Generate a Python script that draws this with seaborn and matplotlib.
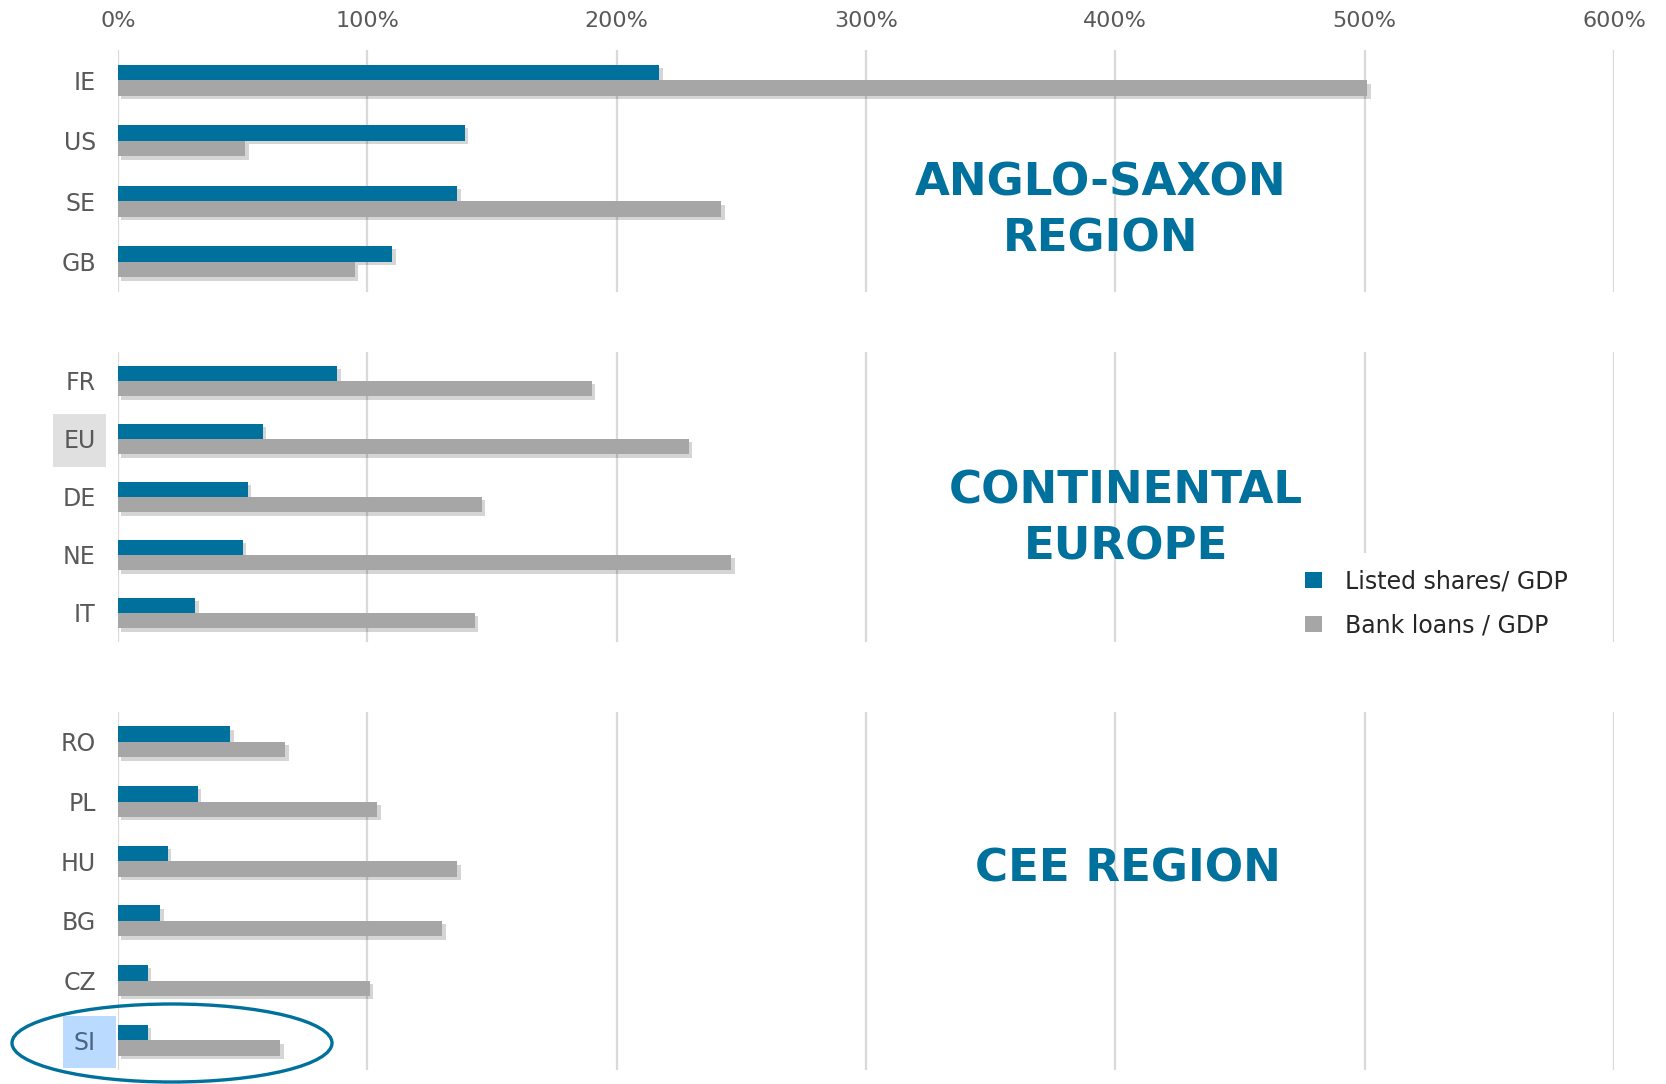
"""Listed shares vs bank loans (% of GDP) by region, three stacked bar panels."""

import pandas as pd
import seaborn as sns
import matplotlib.pyplot as plt
from matplotlib import patheffects
from matplotlib.patches import Ellipse, Rectangle, Patch

# --- data (% of GDP) ---
anglo = ["IE", "US", "SE", "GB"]
anglo_shares = [217, 139, 136, 110]
anglo_loans = [501, 51, 242, 95]

cont = ["FR", "EU", "DE", "NE", "IT"]
cont_shares = [88, 58, 52, 50, 31]
cont_loans = [190, 229, 146, 246, 143]

cee = ["RO", "PL", "HU", "BG", "CZ", "SI"]
cee_shares = [45, 32, 20, 17, 12, 12]
cee_loans = [67, 104, 136, 130, 101, 65]

series = ["Listed shares/ GDP", "Bank loans / GDP"]
xticks = [0, 100, 200, 300, 400, 500, 600]
xtick_labels = ["0%", "100%", "200%", "300%", "400%", "500%", "600%"]

BLUE = "#00709c"
GREY = "#a6a6a6"
W, H = 1666, 1084


def long_df(countries, shares, loans):
    df = pd.DataFrame({"country": countries, series[0]: shares, series[1]: loans})
    return df.melt(id_vars="country", var_name="series", value_name="value")


def px(x, y):
    # figure pixel (from top-left) -> figure fraction
    return x / W, 1 - y / H


sns.set_theme(style="white")
plt.rcParams["font.family"] = ["DejaVu Sans"]

fig = plt.figure(figsize=(W / 100, H / 100), dpi=100)

left, width = 118 / W, 1496 / W
panels = [
    (anglo, anglo_shares, anglo_loans, 50, 292),
    (cont, cont_shares, cont_loans, 352, 642),
    (cee, cee_shares, cee_loans, 712, 1070),
]

shadow = [patheffects.SimplePatchShadow(offset=(2.5, -2.5), shadow_rgbFace="k", alpha=0.18),
          patheffects.Normal()]

axes = []
for i, (cats, sh, lo, top, bot) in enumerate(panels):
    ax = fig.add_axes([left, 1 - bot / H, width, (bot - top) / H])
    df = long_df(cats, sh, lo)
    sns.barplot(data=df, y="country", x="value", hue="series", orient="h",
                palette=[BLUE, GREY], width=0.52, saturation=1, ax=ax,
                legend=False)
    for p in ax.patches:
        p.set_path_effects(shadow)
        p.set_linewidth(0)
    ax.set_xlim(0, 600)
    ax.set_ylim(len(cats) - 0.5, -0.5)
    ax.set_xticks(xticks)
    ax.xaxis.grid(True, color="#d9d9d9", lw=1.6)
    ax.set_axisbelow(True)
    for s in ax.spines.values():
        s.set_visible(False)
    ax.set_xlabel("")
    ax.set_ylabel("")
    ax.tick_params(axis="y", length=0, pad=16, labelsize=17, labelcolor="#595959")
    if i == 0:
        ax.xaxis.tick_top()
        ax.set_xticklabels(xtick_labels)
        ax.tick_params(axis="x", length=0, pad=14, labelsize=16, labelcolor="#595959")
    else:
        ax.tick_params(axis="x", length=0, labelbottom=False)
    axes.append(ax)

# legend
handles = [Patch(facecolor=BLUE, edgecolor="none"), Patch(facecolor=GREY, edgecolor="none")]
fig.legend(handles, series, loc="upper left", bbox_to_anchor=px(1277, 541),
           frameon=True, facecolor="white", edgecolor="none", framealpha=1,
           fontsize=17, handlelength=0.7, handleheight=0.7, handletextpad=1.0,
           labelspacing=0.85, borderpad=0.7)

# region titles
title_kw = dict(ha="center", va="center", fontsize=32.5, weight="bold",
                color=BLUE, linespacing=1.38)
fig.text(*px(1101, 211), "ANGLO-SAXON\nREGION", **title_kw)
fig.text(*px(1126, 519), "CONTINENTAL\nEUROPE", **title_kw)
fig.text(*px(1128, 869), "CEE REGION", **title_kw)

# highlighted labels
fig.patches.append(Rectangle(px(53, 467), 53 / W, 53 / H, transform=fig.transFigure,
                             facecolor="#e0e0e0", edgecolor="none", zorder=-1))
fig.patches.append(Rectangle(px(63, 1068), 53 / W, 52 / H, transform=fig.transFigure,
                             facecolor="#bbdaff", edgecolor="none", zorder=-1))
axes[2].get_yticklabels()[-1].set_color("#4a6585")

# SI circled
fig.patches.append(Ellipse(px(172, 1043), 320 / W, 78 / H, transform=fig.transFigure,
                           fill=False, edgecolor=BLUE, lw=2.4, zorder=10))

fig.savefig("out.png", dpi=100)
